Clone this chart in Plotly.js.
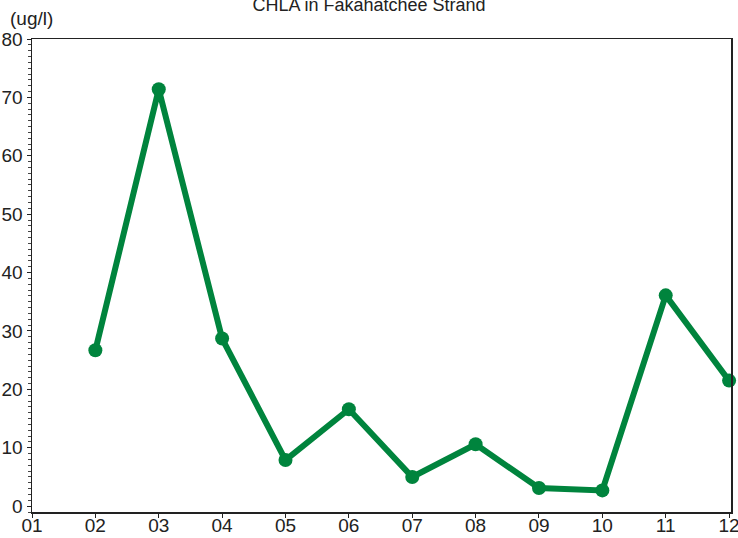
<!DOCTYPE html>
<html>
<head>
<meta charset="utf-8">
<script src="https://cdn.plot.ly/plotly-3.0.1.min.js"></script>
<style>html,body{margin:0;padding:0;background:#fff;}#chart{width:738px;height:538px;}</style>
</head>
<body>
<div id="chart"></div>
<script>
const months = [1, 2, 3, 4, 5, 6, 7, 8, 9, 10, 11, 12];
const monthLabels = ["01", "02", "03", "04", "05", "06", "07", "08", "09", "10", "11", "12"];
const chlaMonths = [2, 3, 4, 5, 6, 7, 8, 9, 10, 11, 12];
const chlaValues = [26.7, 71.4, 28.7, 7.9, 16.6, 5.0, 10.6, 3.1, 2.7, 36.1, 21.5];
const yTicks = [0, 10, 20, 30, 40, 50, 60, 70, 80];

const green = "#00843d";
const font = "Liberation Sans, Arial, sans-serif";

Plotly.newPlot("chart", [{
  x: chlaMonths,
  y: chlaValues,
  type: "scatter",
  mode: "lines+markers",
  line: {color: green, width: 6},
  marker: {color: green, size: 14},
  hoverinfo: "x+y",
  showlegend: false,
  cliponaxis: false
}], {
  width: 738,
  height: 538,
  margin: {l: 32, r: 7, t: 39, b: 26, pad: 0},
  paper_bgcolor: "#fff",
  plot_bgcolor: "#fff",
  font: {family: font, size: 19, color: "#222"},
  title: {
    text: "CHLA in Fakahatchee Strand",
    font: {family: font, size: 18, color: "#222"},
    x: 0.5, xanchor: "center",
    y: 0.992, yanchor: "middle"
  },
  xaxis: {
    range: [1, 12.03],
    tickmode: "array",
    tickvals: months,
    ticktext: monthLabels,
    ticks: "outside",
    ticklen: 4,
    tickcolor: "#222",
    ticklabeloverflow: "allow",
    ticklabelstandoff: -8,
    showline: true,
    linecolor: "#222",
    linewidth: 1.5,
    mirror: true,
    showgrid: false,
    zeroline: false,
    tickfont: {family: font, size: 19, color: "#222"}
  },
  yaxis: {
    range: [-1, 80],
    tickmode: "array",
    tickvals: yTicks,
    ticks: "outside",
    ticklen: 4,
    tickcolor: "#222",
    ticklabeloverflow: "allow",
    showline: true,
    linecolor: "#222",
    linewidth: 1.5,
    mirror: true,
    showgrid: false,
    zeroline: false,
    tickfont: {family: font, size: 19, color: "#222"},
    minor: {dtick: 1, ticks: "outside", ticklen: 3, tickcolor: "#444", showgrid: false}
  },
  annotations: [{
    text: "(ug/l)",
    xref: "paper", yref: "paper",
    x: -0.035, y: 1.0435,
    xanchor: "left", yanchor: "middle",
    showarrow: false,
    font: {family: font, size: 19, color: "#222"}
  }]
}, {displayModeBar: false, staticPlot: true});
</script>
</body>
</html>
